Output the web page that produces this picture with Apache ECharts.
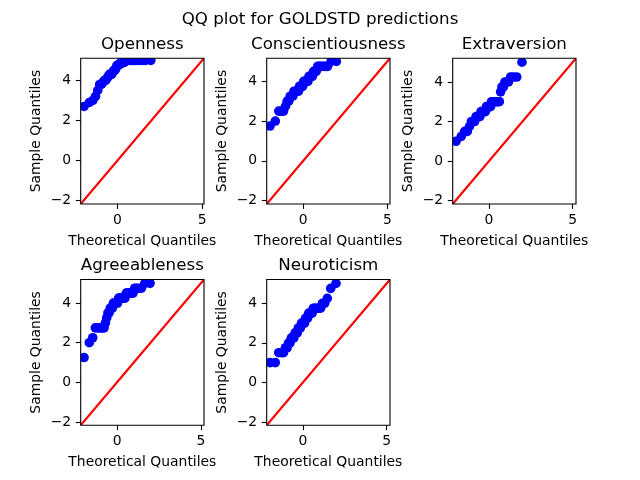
<!DOCTYPE html>
<html lang="en">
<head>
  <meta charset="UTF-8">
  <title>QQ plot for GOLDSTD predictions</title>
  <script src="https://cdn.jsdelivr.net/npm/echarts@6/dist/echarts.min.js"></script>
  <style>
    html, body { margin: 0; padding: 0; background: #fff; }
    #main { width: 640px; height: 480px; }
  </style>
</head>
<body>
<div id="main"></div>
<script>
  // names of the five panels
  var traits = ['Openness', 'Conscientiousness', 'Extraversion', 'Agreeableness', 'Neuroticism'];

  // theoretical normal quantiles (same for every panel)
  var theoretical = [
    -1.971, -1.657, -1.452, -1.296, -1.165, -1.052, -0.952, -0.860, -0.774, -0.694,
    -0.618, -0.546, -0.476, -0.409, -0.343, -0.279, -0.216, -0.154, -0.092, -0.031,
     0.031,  0.092,  0.154,  0.216,  0.279,  0.343,  0.409,  0.476,  0.546,  0.618,
     0.694,  0.774,  0.860,  0.952,  1.052,  1.165,  1.296,  1.452,  1.657,  1.971
  ];

  // sample quantiles
  var openness = [
    2.7, 2.9, 3.0, 3.2, 3.5, 3.8, 3.8, 3.9, 4.0, 4.0,
    4.1, 4.2, 4.3, 4.3, 4.3, 4.4, 4.5, 4.5, 4.6, 4.75,
    4.75, 4.8, 4.8, 4.9, 4.9, 4.9, 4.9, 5.0, 5.0, 5.0,
    5.0, 5.0, 5.0, 5.0, 5.0, 5.0, 5.0, 5.0, 5.0, 5.0
  ];
  var conscientiousness = [
    1.75, 2.0, 2.5, 2.5, 2.5, 2.75, 3.0, 3.0, 3.25, 3.25,
    3.25, 3.5, 3.5, 3.5, 3.5, 3.5, 3.75, 3.75, 3.75, 3.75,
    4.0, 4.0, 4.0, 4.0, 4.0, 4.25, 4.25, 4.25, 4.25, 4.5,
    4.5, 4.5, 4.75, 4.75, 4.75, 4.75, 4.75, 4.75, 5.0, 5.0
  ];
  var extraversion = [
    1.0, 1.25, 1.5, 1.5, 1.75, 2.0, 2.0, 2.0, 2.25, 2.25,
    2.25, 2.25, 2.5, 2.5, 2.5, 2.5, 2.5, 2.75, 2.75, 2.75,
    2.75, 2.75, 3.0, 3.0, 3.0, 3.0, 3.0, 3.0, 3.0, 3.0,
    3.5, 3.75, 3.75, 4.0, 4.0, 4.0, 4.25, 4.25, 4.25, 5.0
  ];
  var agreeableness = [
    1.25, 2.0, 2.25, 2.75, 2.75, 2.75, 2.75, 2.75, 2.75, 3.0,
    3.25, 3.5, 3.5, 3.75, 3.75, 3.75, 4.0, 4.0, 4.0, 4.0,
    4.0, 4.25, 4.25, 4.25, 4.25, 4.25, 4.25, 4.25, 4.5, 4.5,
    4.5, 4.5, 4.5, 4.5, 4.75, 4.75, 4.75, 4.75, 5.0, 5.0
  ];
  var neuroticism = [
    1.0, 1.0, 1.5, 1.5, 1.5, 1.75, 1.75, 2.0, 2.0, 2.25,
    2.25, 2.25, 2.5, 2.5, 2.5, 2.75, 2.75, 2.75, 3.0, 3.0,
    3.0, 3.0, 3.25, 3.25, 3.25, 3.5, 3.5, 3.5, 3.5, 3.75,
    3.75, 3.75, 3.75, 3.75, 3.75, 4.0, 4.0, 4.25, 4.75, 5.0
  ];
  var samples = [openness, conscientiousness, extraversion, agreeableness, neuroticism];

  // shared x/y limits of each panel (the 45 degree line spans them)
  var axisLow = [-2.17, -2.17, -2.17, -2.17, -2.17];
  var axisHigh = [5.11, 5.16, 5.2, 5.19, 5.2];

  var xTicks = [0, 5];
  var yTicks = [-2, 0, 2, 4];

  // plot boxes in pixels
  var boxes = [
    { left: 80.7,  top: 58.2,  width: 123.3, height: 145.8 },
    { left: 266.7, top: 58.2,  width: 123.3, height: 145.8 },
    { left: 452.7, top: 58.2,  width: 123.3, height: 145.8 },
    { left: 80.7,  top: 279.5, width: 123.3, height: 145.8 },
    { left: 266.7, top: 279.5, width: 123.3, height: 145.8 }
  ];

  var font = 'DejaVu Sans';
  function minusFmt(v) { return String(v).replace('-', '\u2212'); }

  var grids = [], xAxes = [], yAxes = [], series = [], graphics = [];
  var titles = [{
    text: 'QQ plot for GOLDSTD predictions',
    left: 320, top: 11.5, textAlign: 'center', padding: 0, z: 20,
    textStyle: { fontFamily: font, fontSize: 16.7, fontWeight: 'normal', color: '#000' }
  }];

  for (var i = 0; i < traits.length; i++) {
    var b = boxes[i];
    var lo = axisLow[i], hi = axisHigh[i];

    grids.push({ left: b.left, top: b.top, width: b.width, height: b.height, containLabel: false, outerBoundsMode: 'none' });

    titles.push({
      text: traits[i],
      left: b.left + b.width / 2, top: b.top - 22.5, textAlign: 'center', padding: 0, z: 20,
      textStyle: { fontFamily: font, fontSize: 16.7, fontWeight: 'normal', color: '#000' }
    });

    xAxes.push({
      type: 'value', gridIndex: i, min: lo, max: hi, z: 10,
      name: 'Theoretical Quantiles', nameLocation: 'middle', nameGap: 30,
      nameTextStyle: { fontFamily: font, fontSize: 13.9, color: '#000' },
      axisLine: { show: false, onZero: false },
      axisTick: { show: true, customValues: xTicks, length: 4.9, lineStyle: { color: '#000', width: 1.1 } },
      axisLabel: { customValues: xTicks, formatter: minusFmt, margin: 9.5, fontFamily: font, fontSize: 13.9, color: '#000' },
      splitLine: { show: false }
    });

    yAxes.push({
      type: 'value', gridIndex: i, min: lo, max: hi, z: 10,
      name: 'Sample Quantiles', nameLocation: 'middle', nameGap: 37,
      nameTextStyle: { fontFamily: font, fontSize: 13.9, color: '#000' },
      axisLine: { show: false, onZero: false },
      axisTick: { show: true, customValues: yTicks, length: 4.9, lineStyle: { color: '#000', width: 1.1 } },
      axisLabel: { customValues: yTicks, formatter: minusFmt, margin: 9.5, fontFamily: font, fontSize: 13.9, color: '#000' },
      splitLine: { show: false }
    });

    var pts = [];
    for (var k = 0; k < theoretical.length; k++) {
      pts.push([theoretical[k], samples[i][k]]);
    }

    series.push({
      type: 'scatter', xAxisIndex: i, yAxisIndex: i, data: pts,
      symbolSize: 9.6, itemStyle: { color: '#0000ff', opacity: 1 }, z: 2, silent: true
    });
    series.push({
      type: 'line', xAxisIndex: i, yAxisIndex: i, data: [[lo, lo], [hi, hi]],
      showSymbol: false, symbol: 'none', clip: true,
      lineStyle: { color: '#ff0000', width: 2.1 }, z: 3, silent: true
    });

    // white strips around each box so markers get cut at the frame like matplotlib
    var m = 6;
    var strips = [
      [b.left - m, b.top - m, b.width + 2 * m, m],
      [b.left - m, b.top + b.height, b.width + 2 * m, m],
      [b.left - m, b.top, m, b.height],
      [b.left + b.width, b.top, m, b.height]
    ];
    strips.forEach(function (s) {
      graphics.push({ type: 'rect', silent: true, z: 5, shape: { x: s[0], y: s[1], width: s[2], height: s[3] }, style: { fill: '#fff' } });
    });
    graphics.push({
      type: 'rect', silent: true, z: 11,
      shape: { x: b.left, y: b.top, width: b.width, height: b.height },
      style: { fill: 'none', stroke: '#000', lineWidth: 1.1 }
    });
  }

  var myChart = echarts.init(document.getElementById('main'));
  myChart.setOption({
    animation: false,
    backgroundColor: '#fff',
    title: titles,
    grid: grids,
    xAxis: xAxes,
    yAxis: yAxes,
    series: series,
    graphic: graphics
  });
</script>
</body>
</html>
